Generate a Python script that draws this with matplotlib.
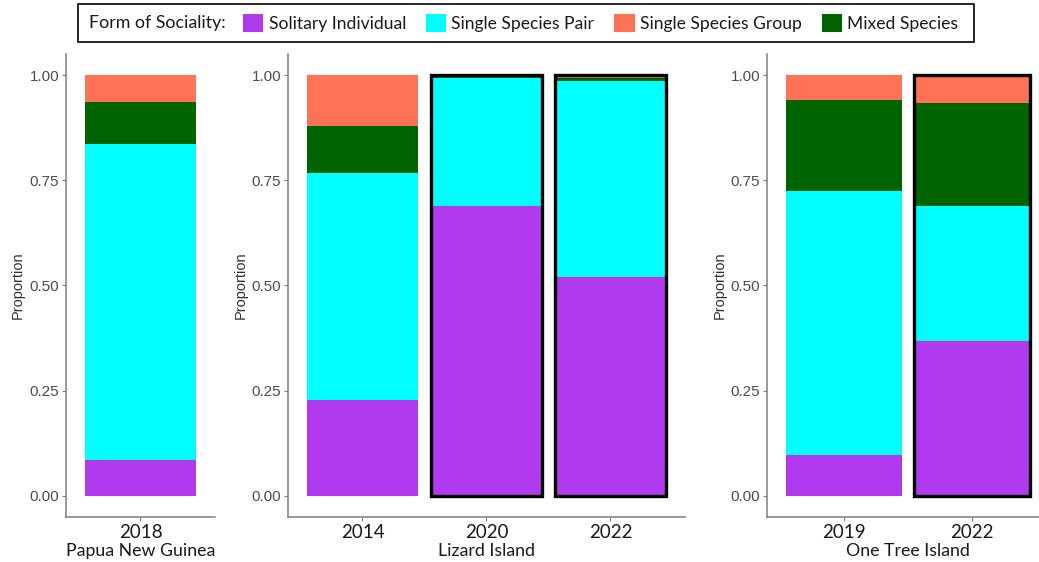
import matplotlib.pyplot as plt
from matplotlib.patches import Patch, Rectangle

# proportions of each form of sociality per site and survey year
sites = ['Papua New Guinea', 'Lizard Island', 'One Tree Island']
years = [['2018'], ['2014', '2020', '2022'], ['2019', '2022']]
solitary = [[0.086], [0.229, 0.690, 0.519], [0.097, 0.368]]
pair = [[0.751], [0.539, 0.304, 0.466], [0.627, 0.321]]
mixed = [[0.099], [0.112, 0.006, 0.007], [0.217, 0.244]]
group = [[0.064], [0.120, 0.000, 0.008], [0.059, 0.067]]
# post-bleaching surveys get a black outline
outlined = [[False], [False, True, True], [False, True]]

categories = ['Solitary Individual', 'Single Species Pair', 'Single Species Group', 'Mixed Species']
colors = {'Solitary Individual': '#B23AEE', 'Single Species Pair': '#00FFFF',
          'Single Species Group': '#FF7256', 'Mixed Species': '#006400'}

plt.rcParams['font.family'] = ['Liberation Sans', 'DejaVu Sans']
lato = ['Lato', 'DejaVu Sans']

fig = plt.figure(figsize=(10.39, 5.62), dpi=100)
bottom, height = 0.080, 0.824
panels = [(0.0635, 0.1434), (0.2772, 0.382), (0.7382, 0.2714)]

grey = '#7F7F7F'
for k, (left, width) in enumerate(panels):
    ax = fig.add_axes([left, bottom, width, height])
    n = len(years[k])
    xs = list(range(n))
    base = [0.0] * n
    stack = [('Solitary Individual', solitary[k]), ('Single Species Pair', pair[k]),
             ('Mixed Species', mixed[k]), ('Single Species Group', group[k])]
    for name, vals in stack:
        ax.bar(xs, vals, width=0.9, bottom=base, color=colors[name], linewidth=0)
        base = [b + v for b, v in zip(base, vals)]
    for i in xs:
        if outlined[k][i]:
            ax.bar(i, base[i], width=0.9, fill=False, edgecolor='black', linewidth=2.4, zorder=3)
    ax.set_xlim(-0.6, n - 0.4)
    ax.set_ylim(-0.05, 1.05)
    ax.set_xticks(xs)
    ax.set_xticklabels(years[k], family=lato, fontsize=13.5, color='#1A1A1A')
    ax.set_yticks([0, 0.25, 0.5, 0.75, 1.0])
    ax.set_yticklabels(['0.00', '0.25', '0.50', '0.75', '1.00'], fontsize=11, color='#4D4D4D')
    ax.set_xlabel(sites[k], family=lato, fontsize=12.8, color='#1A1A1A', labelpad=1.5)
    ax.set_ylabel('Proportion', fontsize=10.5, color='#333333', labelpad=3)
    for s in ['top', 'right']:
        ax.spines[s].set_visible(False)
    for s in ['left', 'bottom']:
        ax.spines[s].set_color(grey)
        ax.spines[s].set_linewidth(1.1)
    ax.tick_params(axis='both', color=grey, length=3, width=0.8, pad=2)

# legend strip along the top
fig.patches.append(Rectangle((0.0755, 0.926), 0.862, 0.067, transform=fig.transFigure,
                             fill=False, edgecolor='black', linewidth=1.2))
fig.text(0.086, 0.959, 'Form of Sociality:', family=lato, fontsize=12.8,
         va='center', ha='left', color='#1A1A1A')
handles = [Patch(facecolor=colors[c], edgecolor='none') for c in categories]
fig.legend(handles, categories, loc='center left', bbox_to_anchor=(0.234, 0.959), ncol=4,
           frameon=False, prop={'family': lato, 'size': 12.6},
           handlelength=1.15, handleheight=1.15, handletextpad=0.3, columnspacing=1.15,
           borderpad=0, borderaxespad=0, labelcolor='#1A1A1A')

fig.savefig('out.png', dpi=100)
